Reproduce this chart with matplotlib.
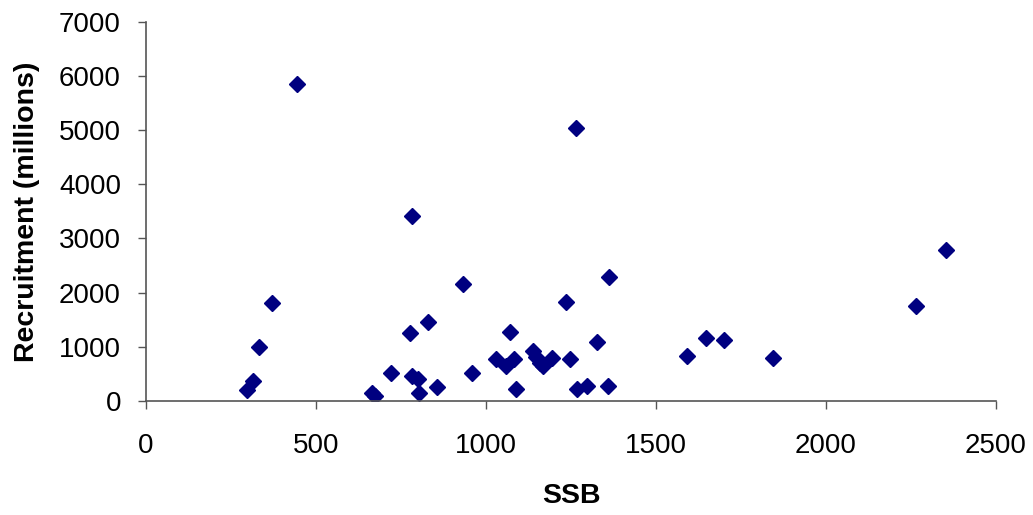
import matplotlib
matplotlib.use("Agg")
import matplotlib.pyplot as plt

# SSB vs recruitment
ssb = [445, 781, 933, 370, 828, 775, 333, 722, 781, 799, 958, 857, 804,
       316, 298, 664, 674,
       1264, 1363, 1234, 1070, 1327, 1646, 1699, 1592, 1845, 1028, 1058,
       1081, 1139, 1147, 1159, 1169, 1193, 1246, 1087, 1269, 1298, 1358,
       2352, 2264]
recruitment = [5850, 3420, 2165, 1800, 1463, 1249, 991, 511, 467, 400, 511,
               253, 142, 375, 203, 142, 98,
               5042, 2282, 1832, 1279, 1094, 1168, 1131, 836, 799, 769, 651,
               769, 923, 817, 707, 646, 799, 769, 216, 216, 282, 282,
               2792, 1758]

xticks = [0, 500, 1000, 1500, 2000, 2500]
yticks = [0, 1000, 2000, 3000, 4000, 5000, 6000, 7000]

plt.rcParams['font.family'] = ['Liberation Sans', 'DejaVu Sans']

fig = plt.figure(figsize=(10.33, 5.15), dpi=100)
ax = fig.add_axes([146 / 1033, (515 - 401) / 515, 850 / 1033, (401 - 21.7) / 515])

ax.plot(ssb, recruitment, linestyle='none', marker='D', markersize=7.8,
        color='#000080', markeredgecolor='#000080')

ax.set_xlim(0, 2500)
ax.set_ylim(0, 7000)
ax.set_xticks(xticks)
ax.set_yticks(yticks)
ax.tick_params(labelsize=20, length=6, width=1, color='#555555', direction='out')
ax.tick_params(axis='x', pad=17)
ax.tick_params(axis='y', pad=12)

for side in ('top', 'right'):
    ax.spines[side].set_visible(False)
for side in ('left', 'bottom'):
    ax.spines[side].set_color('#555555')
    ax.spines[side].set_linewidth(1.2)

ax.set_xlabel('SSB', fontsize=20.5, fontweight='bold', labelpad=17)
ax.set_ylabel('Recruitment (millions)', fontsize=20.5, fontweight='bold', labelpad=14)

fig.savefig('out.png', dpi=100)
